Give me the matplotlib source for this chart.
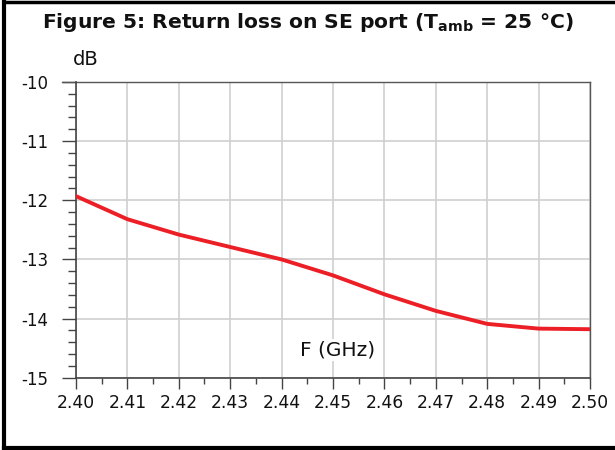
import matplotlib
matplotlib.use("Agg")
import matplotlib.pyplot as plt
from matplotlib.lines import Line2D
from matplotlib.ticker import MultipleLocator, FixedLocator
import numpy as np

plt.rcParams['font.family'] = ['DejaVu Sans']
plt.rcParams['mathtext.fontset'] = 'custom'
plt.rcParams['mathtext.rm'] = 'DejaVu Sans:bold'
plt.rcParams['mathtext.bf'] = 'DejaVu Sans:bold'

freq_ghz = [2.40, 2.41, 2.42, 2.43, 2.44, 2.45, 2.46, 2.47, 2.48, 2.49, 2.50]
return_loss_db = [-11.93, -12.32, -12.58, -12.79, -13.00, -13.27, -13.59, -13.87, -14.09, -14.17, -14.18]
x_ticks = [2.40, 2.41, 2.42, 2.43, 2.44, 2.45, 2.46, 2.47, 2.48, 2.49, 2.50]
x_tick_labels = ["2.40", "2.41", "2.42", "2.43", "2.44", "2.45", "2.46", "2.47", "2.48", "2.49", "2.50"]
y_ticks = [-15, -14, -13, -12, -11, -10]
y_tick_labels = ["-15", "-14", "-13", "-12", "-11", "-10"]

W, H = 615, 450
fig = plt.figure(figsize=(W / 100, H / 100), dpi=100)
ax = fig.add_axes([76 / W, 1 - 377.7 / H, (590 - 76) / W, (377.7 - 82) / H])

ax.plot(freq_ghz, return_loss_db, color='#ec1f26', lw=2.8, solid_joinstyle='round', zorder=5)

ax.set_xlim(2.40, 2.50)
ax.set_ylim(-15, -10)
ax.xaxis.set_major_locator(FixedLocator(x_ticks))
ax.set_xticklabels(x_tick_labels)
ax.xaxis.set_minor_locator(MultipleLocator(0.005))
ax.yaxis.set_major_locator(FixedLocator(y_ticks))
ax.set_yticklabels(y_tick_labels)
ax.yaxis.set_minor_locator(MultipleLocator(0.2))

ax.grid(True, which='major', color='#cfcfcf', lw=1.2, zorder=0)
ax.set_axisbelow(True)

ax.tick_params(axis='y', which='major', direction='out', length=10, width=1.0, color='#444444',
               labelsize=12, pad=10, labelcolor='#111111')
ax.tick_params(axis='y', which='minor', direction='out', length=5.5, width=1.0, color='#444444')
ax.tick_params(axis='x', which='major', direction='out', length=8, width=1.0, color='#444444',
               labelsize=12.3, pad=4, labelcolor='#111111')
ax.tick_params(axis='x', which='minor', direction='out', length=4.3, width=1.0, color='#444444')

for s in ['left', 'bottom']:
    ax.spines[s].set_color('#444444')
    ax.spines[s].set_linewidth(1.2)
ax.spines['right'].set_color('#555555')
ax.spines['right'].set_linewidth(1.0)
ax.spines['top'].set_visible(False)
# darker top grid line extending left like a tick
ax.add_artist(Line2D([-0.027, 1.0], [1.0, 1.0], transform=ax.transAxes, color='#555555',
                     lw=1.0, clip_on=False))

ax.text(-0.006, 1.0575, 'dB', transform=ax.transAxes, ha='left', va='baseline', fontsize=14, color='#111111')
ax.text(2.4509, -14.535, 'F (GHz)', ha='center', va='center', fontsize=14.5, color='#111111',
        bbox=dict(facecolor='white', edgecolor='none', pad=1), zorder=3)

fig.text(308 / W, 1 - 22 / H, r'Figure 5: Return loss on SE port (T$_{\mathrm{amb}}$ = 25 °C)',
         ha='center', va='center', fontsize=14.6, fontweight='bold', color='#111111')

# figure border (left, top, bottom)
def px_line(xs, ys, lw):
    fig.add_artist(Line2D([x / W for x in xs], [1 - y / H for y in ys], transform=fig.transFigure,
                          color='black', lw=lw, solid_capstyle='projecting'))

px_line([4, 4], [1.5, 448], 3.0)
px_line([4, 615], [1.5, 1.5], 2.5)
px_line([4, 615], [448, 448], 3.0)

fig.savefig('out.png', dpi=100, facecolor='white')
